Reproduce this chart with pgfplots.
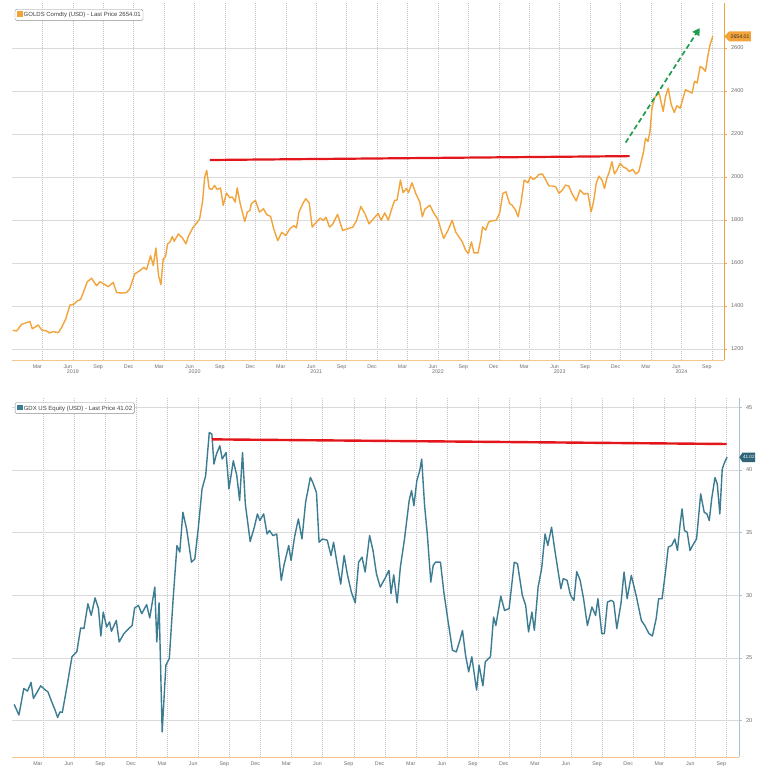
\documentclass[border=0pt]{standalone}
\usepackage{pgfplots}
\pgfplotsset{compat=1.18}
\usepackage{fontspec}
\setmainfont{Liberation Sans}
\usetikzlibrary{arrows.meta,shapes.symbols}

\definecolor{goldc}{HTML}{F2A33A}
\definecolor{gdxc}{HTML}{3C7C92}
\definecolor{gdxtag}{HTML}{2E6579}
\definecolor{gridc}{HTML}{DADADA}
\definecolor{vgridc}{HTML}{C4C4C4}
\definecolor{redc}{HTML}{E3161B}
\definecolor{greenc}{HTML}{1E9E4E}
\definecolor{lblc}{HTML}{6E6E6E}
\definecolor{axorange}{HTML}{F6C68A}
\definecolor{axblue}{HTML}{A9C3CE}

\pgfplotstableread{
m v
0.07 1287
0.46 1284
0.95 1315
1.45 1323
1.77 1328
2.0 1294
2.59 1312
2.92 1289
3.42 1284
3.68 1275
4.07 1281
4.56 1276
4.89 1300
5.29 1339
5.71 1404
6.11 1409
6.44 1424
6.76 1430
7.03 1463
7.42 1513
7.85 1529
8.34 1494
8.67 1513
9.06 1502
9.49 1490
9.98 1510
10.31 1463
10.8 1460
11.3 1463
11.6 1479
12.1 1549
12.6 1564
13.0 1580
13.27 1569
13.66 1634
13.93 1588
14.19 1670
14.45 1541
14.68 1499
14.91 1619
15.14 1630
15.34 1689
15.57 1697
15.8 1723
15.99 1701
16.4 1735
16.8 1717
17.15 1689
17.38 1723
17.87 1767
18.2 1785
18.5 1805
18.8 1891
19.0 2000
19.2 2031
19.44 1946
19.7 1942
19.97 1961
20.23 1942
20.56 1949
20.82 1868
21.15 1925
21.47 1904
21.73 1907
22.0 1883
22.2 1949
22.5 1876
22.95 1793
23.2 1837
23.45 1844
23.6 1876
24.0 1891
24.4 1837
24.8 1852
25.1 1826
25.5 1816
25.8 1759
26.2 1704
26.6 1743
26.99 1728
27.4 1759
27.8 1774
28.04 1763
28.3 1837
28.7 1879
28.97 1899
29.3 1879
29.6 1767
30.0 1790
30.4 1809
30.7 1798
30.96 1813
31.3 1767
31.6 1779
32.1 1826
32.6 1751
33.1 1759
33.6 1767
33.95 1795
34.4 1863
34.8 1829
35.2 1782
35.66 1807
36.1 1830
36.4 1799
36.75 1833
37.1 1799
37.4 1846
37.73 1892
37.96 1892
38.3 1986
38.56 1927
38.9 1947
39.08 1927
39.44 1973
39.8 1924
40.2 1885
40.46 1815
40.7 1850
41.2 1869
41.58 1833
42.0 1802
42.33 1749
42.56 1714
43.0 1753
43.4 1799
43.74 1745
44.07 1721
44.4 1698
44.73 1659
45.0 1644
45.3 1698
45.55 1647
45.95 1647
46.2 1706
46.4 1768
46.7 1753
47.0 1791
47.35 1796
47.75 1799
48.08 1833
48.4 1924
48.7 1931
49.06 1877
49.3 1869
49.65 1846
49.9 1815
50.2 1885
50.5 1986
50.87 1973
51.1 2001
51.4 1989
51.7 1998
51.95 2012
52.3 2014
52.6 1989
52.94 1958
53.27 1958
53.6 1955
53.93 1924
54.26 1939
54.58 1962
54.9 1958
55.2 1924
55.63 1889
56.0 1939
56.4 1920
56.78 1924
57.1 1838
57.34 1885
57.6 1970
57.87 2004
58.16 1986
58.42 1947
58.65 1994
58.9 2025
59.15 2071
59.4 2014
59.64 2032
59.97 2064
60.23 2048
60.56 2040
60.88 2025
61.2 2036
61.5 2014
61.8 2025
62.0 2064
62.27 2118
62.46 2180
62.7 2165
62.9 2211
63.1 2320
63.35 2367
63.58 2382
63.8 2390
64.2 2305
64.44 2375
64.7 2413
65.0 2336
65.3 2300
65.55 2331
65.88 2320
66.14 2362
66.4 2406
66.73 2398
67.05 2390
67.3 2445
67.55 2437
67.85 2514
68.1 2507
68.37 2491
68.6 2561
68.83 2616
69.1 2654
}\golddata

\pgfplotstableread{
m v
0.21 21.3
0.67 20.45
1.14 22.57
1.5 22.36
1.84 23.05
2.07 21.77
2.44 22.3
2.77 22.78
3.23 22.44
3.47 22.3
3.84 21.5
4.16 20.85
4.4 20.26
4.63 20.7
4.86 20.66
5.33 22.83
5.79 25.1
6.26 25.5
6.63 27.4
6.95 27.35
7.33 29.33
7.65 28.4
8.02 29.8
8.35 28.94
8.58 26.76
8.81 28.67
9.14 27.48
9.42 27.88
9.6 27.13
10.07 28.0
10.35 26.28
10.81 26.95
11.28 27.35
11.6 27.6
11.84 28.99
12.21 29.2
12.53 28.54
13.0 29.26
13.3 28.2
13.79 30.66
13.98 26.28
14.2 29.4
14.5 19.1
14.86 24.43
15.19 24.96
15.56 29.73
15.93 33.98
16.2 33.45
16.5 36.63
16.86 35.3
17.33 32.65
17.65 32.9
17.98 35.3
18.35 38.49
18.7 39.55
19.05 43.0
19.3 42.87
19.5 40.48
19.74 41.27
20.07 41.94
20.3 40.88
20.67 41.4
20.95 38.49
21.37 40.74
21.7 39.6
21.98 37.56
22.26 41.4
22.53 37.3
23.0 34.3
23.4 35.44
23.7 36.5
23.93 35.97
24.3 36.5
24.63 34.9
24.86 35.17
25.2 34.77
25.56 34.9
26.0 31.2
26.26 32.4
26.72 33.98
26.95 32.78
27.28 34.64
27.65 36.1
28.0 34.5
28.35 37.43
28.81 39.42
29.05 39.0
29.4 38.2
29.65 34.24
29.98 34.5
30.44 34.4
30.8 33.18
31.05 34.24
31.37 32.65
31.74 30.9
32.07 33.18
32.4 31.6
32.77 30.26
33.14 29.4
33.47 32.65
33.8 33.05
34.1 31.86
34.53 34.77
34.86 33.58
35.19 31.72
35.56 30.66
36.0 31.33
36.4 32.0
36.6 30.13
36.86 31.64
37.19 29.4
37.5 32.25
37.9 34.5
38.35 37.56
38.58 38.36
38.81 37.16
39.09 39.15
39.37 39.95
39.56 40.88
39.84 37.16
40.1 34.9
40.44 31.06
40.67 32.38
40.9 32.65
41.37 32.65
41.7 30.26
42.07 28.14
42.53 25.62
42.9 25.49
43.2 26.28
43.5 27.2
43.8 25.2
44.1 23.9
44.4 25.1
44.86 22.44
45.1 24.43
45.47 22.78
45.7 24.7
46.2 25.1
46.5 28.27
46.72 27.6
47.2 29.94
47.56 28.8
48.0 28.94
48.5 32.65
48.81 32.52
49.28 30.0
49.6 29.2
49.88 27.08
50.2 28.67
50.44 27.21
50.8 30.66
51.14 32.12
51.47 34.9
51.74 33.98
52.1 35.44
52.4 33.7
52.77 31.72
53.0 30.53
53.23 31.33
53.6 31.2
53.93 30.0
54.26 29.6
54.53 31.9
54.86 31.2
55.19 29.73
55.56 27.6
56.0 29.07
56.35 28.4
56.58 29.73
56.95 26.95
57.2 26.95
57.5 29.47
57.86 29.6
58.1 29.47
58.4 27.35
58.8 29.33
59.1 31.86
59.4 29.73
59.8 31.6
60.3 29.87
60.77 28.0
61.1 27.6
61.5 26.95
61.84 26.76
62.2 28.14
62.44 29.73
62.77 29.73
63.1 31.86
63.37 33.85
63.7 33.98
64.0 34.5
64.26 33.58
64.5 35.57
64.7 36.9
64.93 35.17
65.2 35.04
65.47 33.58
65.8 34.1
66.1 34.5
66.5 38.1
66.84 36.63
67.1 36.5
67.33 35.97
67.56 37.7
67.88 39.4
68.1 38.9
68.35 36.5
68.58 40.08
68.8 40.6
69.05 41.02
}\gdxdata

\pgfplotsset{bbg/.style={
  scale only axis, xmin=0, xmax=70.2,
  clip mode=individual,
  axis x line*=bottom, axis y line*=right,
  xtick={2.5,5.5,...,68.5},
  xticklabels={Mar,Jun,Sep,Dec,Mar,Jun,Sep,Dec,Mar,Jun,Sep,Dec,Mar,Jun,Sep,Dec,Mar,Jun,Sep,Dec,Mar,Jun,Sep},
  minor xtick={3,6,...,69},
  xminorgrids=true, xmajorgrids=false, ymajorgrids=true,
  minor grid style={vgridc, dash pattern=on 0.8pt off 1.2pt, line width=0.5pt},
  major grid style={gridc, line width=0.55pt},
  xtick style={draw=none},
  minor x tick style={draw=none},
  tick align=outside, major tick length=2.5pt,
  xticklabel style={font=\fontsize{5.3}{6}\selectfont, text=lblc, yshift=1.5pt},
  yticklabel style={font=\fontsize{5.6}{6}\selectfont, text=lblc, xshift=1pt},
  /pgf/number format/assume math mode=true,
  /pgf/number format/1000 sep={},
}}

\begin{document}
\begin{tikzpicture}
\fill[white] (0,0) rectangle (757pt,-771pt);
\path[use as bounding box] (0,0) rectangle (757pt,-771pt);

% ---------- top: gold ----------
\begin{axis}[bbg,
  at={(12pt,-360pt)}, anchor=south west,
  width=712pt, height=357pt,
  ymin=1149, ymax=2809,
  ytick={1200,1400,...,2600},
  x axis line style={axorange, line width=0.9pt},
  y axis line style={goldc, line width=0.9pt},
  ytick style={goldc, line width=0.6pt},
  extra x ticks={6,18,30,42,54,66},
  extra x tick labels={2019,2020,2021,2022,2023,2024},
  extra x tick style={xmajorgrids=false, xticklabel style={yshift=-5.5pt}},
]
\addplot[goldc, line width=1.4pt, line join=round] table[x=m,y=v]{\golddata};
\addplot[redc, line width=2.2pt] coordinates {(19.5,2079) (60.9,2097)};
\addplot[greenc, line width=1.7pt, dash pattern=on 5pt off 3pt,
  -{Triangle[length=7pt,width=8pt]}] coordinates {(60.5,2160) (67.8,2692)};
\node[signal, signal to=west, fill=goldc, text=black!80, inner sep=1.4pt,
  font=\fontsize{5.2}{6}\selectfont, anchor=west, minimum height=10pt]
  at (axis cs:70.2,2654) {2654.01};
\node[draw=black!45, rounded corners=1.5pt, fill=white, anchor=north west,
  inner sep=2.2pt, font=\fontsize{6}{7}\selectfont, text=black!75]
  at (rel axis cs:0.004,0.983)
  {\textcolor{goldc}{\rule{5.5pt}{5.5pt}}\,GOLDS Comdty (USD) - Last Price 2654.01};
\end{axis}

% ---------- bottom: GDX ----------
\begin{axis}[bbg,
  at={(12pt,-757pt)}, anchor=south west,
  width=727pt, height=359pt,
  ymin=17.1, ymax=45.75,
  ytick={20,25,...,45},
  x axis line style={axorange, line width=0.9pt},
  y axis line style={axblue, line width=0.9pt},
  ytick style={axblue, line width=0.6pt},
]
\addplot[gdxc, line width=1.4pt, line join=round] table[x=m,y=v]{\gdxdata};
\addplot[redc, line width=2.4pt] coordinates {(19.3,42.45) (69.0,42.08)};
\node[signal, signal to=west, fill=gdxtag, text=white, inner xsep=0.5pt, inner ysep=1.4pt,
  signal pointer angle=110,
  font=\fontsize{4.6}{5}\selectfont, anchor=west, minimum height=9.5pt]
  at (axis cs:70.2,41.02) {41.02};
\node[draw=black!45, rounded corners=1.5pt, fill=white, anchor=north west,
  inner sep=2.2pt, font=\fontsize{6}{7}\selectfont, text=black!75]
  at (rel axis cs:0.004,0.988)
  {\textcolor{gdxc}{\rule{5.5pt}{5.5pt}}\,GDX US Equity (USD) - Last Price 41.02};
\end{axis}
\end{tikzpicture}
\end{document}
